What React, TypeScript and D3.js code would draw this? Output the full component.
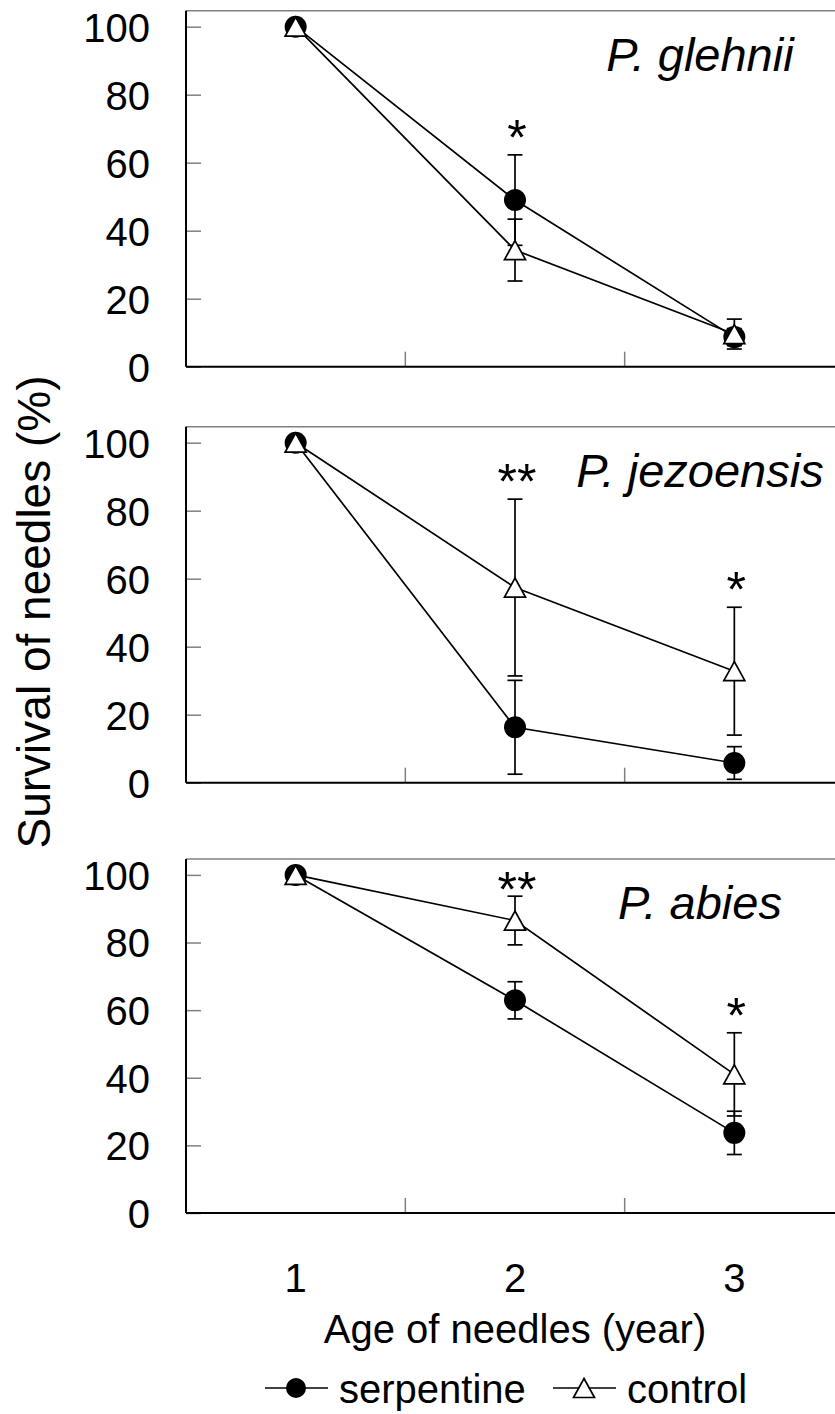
import React, { useEffect, useRef } from "react";
import * as d3 from "d3";

// Age classes of needles (x categories)
const ages = ["1", "2", "3"];
const speciesNames = ["P. glehnii", "P. jezoensis", "P. abies"];

// Survival (%) per species, per age class
const serpentineMean = [
  [100, 49, 8.7],
  [100, 16.3, 5.8],
  [100, 62.9, 23.7],
];
const serpentineErr = [
  [0, 13.3, 2.5],
  [0, 13.8, 4.8],
  [0, 5.5, 6.4],
];
const controlMean = [
  [100, 34.3, 9.6],
  [100, 57.4, 32.8],
  [100, 86.5, 41],
];
const controlErr = [
  [0, 9.1, 4.4],
  [0, 26, 18.8],
  [0, 7.2, 12.3],
];
const significance = [
  ["", "*", ""],
  ["", "**", "*"],
  ["", "**", "*"],
];
const yTicks = [0, 20, 40, 60, 80, 100];

const FONT = "'Liberation Sans', Arial, sans-serif";
const TRIANGLE = "M0,-9.5L10.5,9.5L-10.5,9.5Z";

const App = () => {
  const svgRef = useRef(null);

  useEffect(() => {
    const plotLeft = 186;
    const plotRight = 844;
    const panelTops = [10.7, 426.7, 859];
    const panelBottoms = [366.7, 782.7, 1213];

    const svg = d3.select(svgRef.current);
    svg.selectAll("*").remove();

    const x = d3
      .scaleBand()
      .domain(ages)
      .range([plotLeft, plotRight])
      .padding(0);
    const cx = (a) => x(a) + x.bandwidth() / 2;

    speciesNames.forEach((name, i) => {
      const top = panelTops[i];
      const bottom = panelBottoms[i];
      const y = d3.scaleLinear().domain([0, 104.7]).range([bottom, top]);
      const g = svg.append("g");

      // top frame line
      g.append("line")
        .attr("x1", plotLeft)
        .attr("x2", plotRight)
        .attr("y1", top)
        .attr("y2", top)
        .attr("stroke", "#808080")
        .attr("stroke-width", 1.5);

      // y axis with inward ticks
      const ya = g
        .append("g")
        .attr("transform", `translate(${plotLeft},0)`)
        .call(d3.axisLeft(y).tickValues(yTicks).tickSize(-15).tickPadding(36));
      ya.select(".domain").remove();
      ya.selectAll(".tick line")
        .attr("stroke", "#808080")
        .attr("stroke-width", 1.5);
      ya.selectAll(".tick text")
        .attr("font-size", 40)
        .attr("font-family", FONT)
        .attr("fill", "#000")
        .attr("dy", "0.36em");

      // x ticks at category boundaries
      g.selectAll(".xtick")
        .data(ages.slice(1))
        .join("line")
        .attr("x1", (d) => x(d))
        .attr("x2", (d) => x(d))
        .attr("y1", bottom)
        .attr("y2", bottom - 15)
        .attr("stroke", "#808080")
        .attr("stroke-width", 1.5);

      // axis lines
      g.append("line")
        .attr("x1", plotLeft)
        .attr("x2", plotLeft)
        .attr("y1", top)
        .attr("y2", bottom)
        .attr("stroke", "#000")
        .attr("stroke-width", 2);
      g.append("line")
        .attr("x1", plotLeft)
        .attr("x2", plotRight)
        .attr("y1", bottom)
        .attr("y2", bottom)
        .attr("stroke", "#000")
        .attr("stroke-width", 2);

      const series = [
        { means: serpentineMean[i], errs: serpentineErr[i] },
        { means: controlMean[i], errs: controlErr[i] },
      ];

      // error bars
      series.forEach((s) => {
        const pts = ages
          .map((a, j) => ({ a, m: s.means[j], e: s.errs[j] }))
          .filter((p) => p.e > 0);
        const eg = g.append("g").attr("stroke", "#000").attr("stroke-width", 1.7);
        eg.selectAll(".bar")
          .data(pts)
          .join("line")
          .attr("x1", (p) => cx(p.a))
          .attr("x2", (p) => cx(p.a))
          .attr("y1", (p) => y(p.m - p.e))
          .attr("y2", (p) => y(p.m + p.e));
        [1, -1].forEach((sign) => {
          eg.selectAll(`.cap${sign}`)
            .data(pts)
            .join("line")
            .attr("x1", (p) => cx(p.a) - 7.5)
            .attr("x2", (p) => cx(p.a) + 7.5)
            .attr("y1", (p) => y(p.m + sign * p.e))
            .attr("y2", (p) => y(p.m + sign * p.e));
        });
      });

      // lines
      const line = d3
        .line()
        .x((d) => cx(d.a))
        .y((d) => y(d.v));
      series.forEach((s) => {
        g.append("path")
          .datum(ages.map((a, j) => ({ a, v: s.means[j] })))
          .attr("fill", "none")
          .attr("stroke", "#000")
          .attr("stroke-width", 1.7)
          .attr("d", line);
      });

      // markers
      g.selectAll(".dot")
        .data(ages.map((a, j) => ({ a, v: serpentineMean[i][j] })))
        .join("circle")
        .attr("cx", (d) => cx(d.a))
        .attr("cy", (d) => y(d.v))
        .attr("r", 11)
        .attr("fill", "#000");
      g.selectAll(".tri")
        .data(ages.map((a, j) => ({ a, v: controlMean[i][j] })))
        .join("path")
        .attr("d", TRIANGLE)
        .attr("transform", (d) => `translate(${cx(d.a)},${y(d.v)})`)
        .attr("fill", "#fff")
        .attr("stroke", "#000")
        .attr("stroke-width", 1.7);

      // significance stars
      const stars = ages
        .map((a, j) => ({
          a,
          label: significance[i][j],
          upper: Math.max(
            serpentineMean[i][j] + serpentineErr[i][j],
            controlMean[i][j] + controlErr[i][j]
          ),
        }))
        .filter((d) => d.label);
      g.selectAll(".star")
        .data(stars)
        .join("text")
        .attr("x", (d) => cx(d.a) + 2)
        .attr("y", (d) => Math.max(y(d.upper) - 27, top + 21) + 27)
        .attr("text-anchor", "middle")
        .attr("font-family", FONT)
        .attr("font-size", 50)
        .text((d) => d.label);

      // species title
      g.append("text")
        .attr("x", 700)
        .attr("y", top + 60)
        .attr("text-anchor", "middle")
        .attr("font-family", FONT)
        .attr("font-style", "italic")
        .attr("font-size", 47)
        .text(name);
    });

    // x tick labels (bottom panel only)
    svg.selectAll(".xlabel")
      .data(ages)
      .join("text")
      .attr("x", (d) => cx(d))
      .attr("y", 1292)
      .attr("text-anchor", "middle")
      .attr("font-family", FONT)
      .attr("font-size", 40)
      .text((d) => d);

    svg.append("text")
      .attr("x", cx("2"))
      .attr("y", 1343)
      .attr("text-anchor", "middle")
      .attr("font-family", FONT)
      .attr("font-size", 40)
      .text("Age of needles (year)");

    svg.append("text")
      .attr("transform", "translate(50,612) rotate(-90)")
      .attr("text-anchor", "middle")
      .attr("font-family", FONT)
      .attr("font-size", 46)
      .text("Survival of needles (%)");

    // legend
    const legend = svg.append("g").attr("transform", "translate(0,1388)");
    const items = [
      { label: "serpentine", kind: "circle", x0: 265 },
      { label: "control", kind: "triangle", x0: 553 },
    ];
    items.forEach((it) => {
      legend.append("line")
        .attr("x1", it.x0)
        .attr("x2", it.x0 + 63)
        .attr("y1", 0)
        .attr("y2", 0)
        .attr("stroke", "#000")
        .attr("stroke-width", 1.7);
      if (it.kind === "circle") {
        legend.append("circle")
          .attr("cx", it.x0 + 31)
          .attr("cy", 0)
          .attr("r", 10)
          .attr("fill", "#000");
      } else {
        legend.append("path")
          .attr("d", TRIANGLE)
          .attr("transform", `translate(${it.x0 + 31},0)`)
          .attr("fill", "#fff")
          .attr("stroke", "#000")
          .attr("stroke-width", 1.7);
      }
      legend.append("text")
        .attr("x", it.x0 + 74)
        .attr("y", 15)
        .attr("font-family", FONT)
        .attr("font-size", 40)
        .text(it.label);
    });
  }, []);

  return (
    <svg
      ref={svgRef}
      width="835"
      height="1414"
      style={{ position: "absolute", left: 0, top: 0, background: "#fff" }}
    ></svg>
  );
};

export default App;
